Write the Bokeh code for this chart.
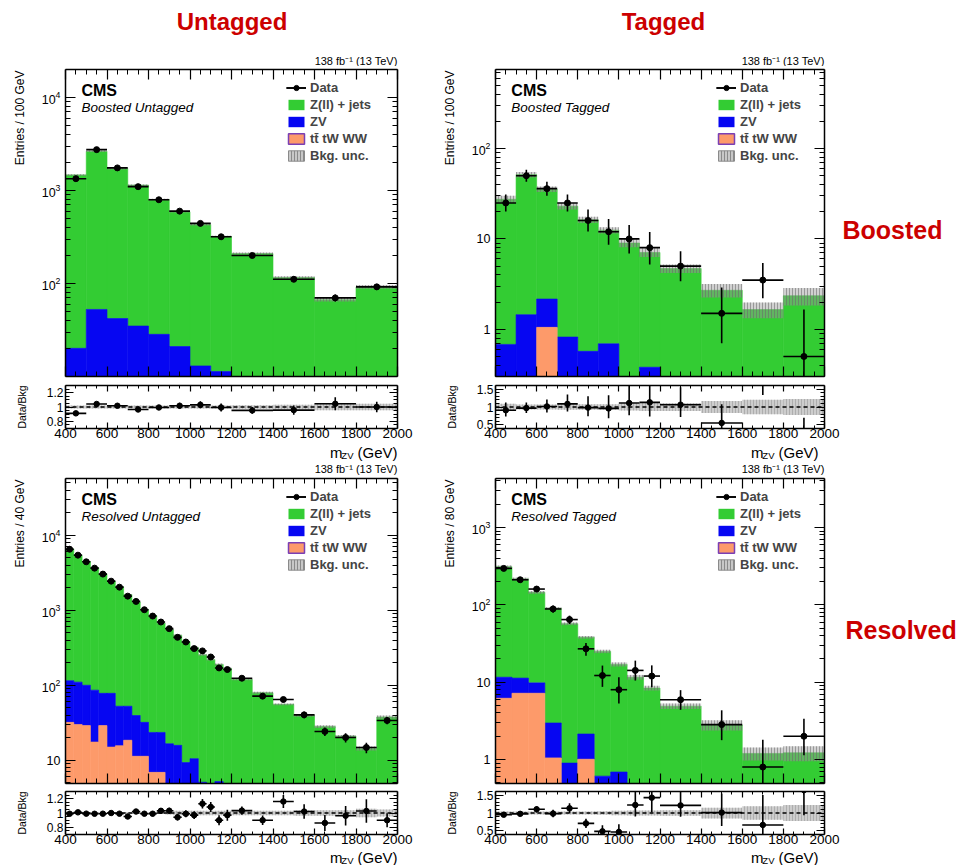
import math
from bokeh.plotting import figure
from bokeh.models import (Range1d, FixedTicker, LinearAxis, LogAxis, LogTickFormatter,
                          Label, Legend, LegendItem, Span, Title)
from bokeh.layouts import column, row
from bokeh.embed import file_html
from bokeh.resources import INLINE

FONT = "Liberation Sans"
GREEN = "#33cc33"
BLUE = "#0606f2"
ORANGE = "#fd9a6a"
PURPLE = "#7a3fb5"
RED = "#cc0000"

# ---------------- binning ----------------
boosted_edges = [400, 500, 600, 700, 800, 900, 1000, 1100, 1200, 1400, 1600, 1800, 2000]
resolved_untagged_edges = [400, 440, 480, 520, 560, 600, 640, 680, 720, 760, 800, 840, 880,
                           920, 960, 1000, 1040, 1080, 1120, 1160, 1200, 1300, 1400, 1500,
                           1600, 1700, 1800, 1900, 2000]
resolved_tagged_edges = [400, 480, 560, 640, 720, 800, 880, 960, 1040, 1120, 1200, 1400,
                         1600, 1800, 2000]

# ---------------- Boosted Untagged (entries / 100 GeV) ----------------
bu_zjets = [1450, 2587, 1678, 1105, 772, 569, 417, 309, 202, 110.5, 63.5, 89.5]
bu_zv = [17.1, 47.1, 37.5, 31.4, 25.6, 19.0, 11.5, 10.2, 7.2, 5.0, 3.2, 2.3]
bu_tt = [3.0, 5.5, 4.5, 3.5, 2.8, 2.0, 1.5, 1.1, 0.8, 0.5, 0.3, 0.2]
bu_data = [1340, 2750, 1750, 1100, 795, 600, 443, 318, 200, 111, 70, 92]
bu_err_lo = [37, 52, 42, 33, 28, 24.5, 21, 18, 10, 7.4, 6.0, 6.8]
bu_err_hi = [37, 52, 42, 33, 28, 24.5, 21, 18, 10, 7.4, 6.0, 6.8]
bu_unc = [0.02, 0.02, 0.02, 0.02, 0.02, 0.02, 0.02, 0.02, 0.025, 0.03, 0.045, 0.045]

# ---------------- Boosted Tagged (entries / 100 GeV) ----------------
bt_zjets = [26.8, 50.1, 33.3, 22.2, 15.7, 11.8, 8.8, 6.7, 4.55, 2.6, 1.57, 2.27]
bt_zv = [0.58, 1.3, 1.11, 0.72, 0.49, 0.61, 0.15, 0.33, 0.12, 0.08, 0.06, 0.06]
bt_tt = [0.1, 0.15, 1.05, 0.1, 0.08, 0.08, 0.05, 0.05, 0.03, 0.02, 0.02, 0.02]
bt_data = [25, 50, 36, 25, 16, 12, 10, 8, 5, 1.5, 3.5, 0.5]
bt_err_lo = [4.9, 7.0, 5.9, 4.9, 3.9, 3.4, 3.1, 2.8, 1.6, 0.8, 1.3, 0.499]
bt_err_hi = [6.0, 8.1, 7.0, 6.0, 5.1, 4.6, 4.3, 3.9, 2.3, 1.4, 1.9, 1.15]
bt_unc = [0.09, 0.07, 0.07, 0.08, 0.08, 0.08, 0.1, 0.11, 0.11, 0.17, 0.2, 0.22]

# ---------------- Resolved Untagged (entries / 40 GeV) ----------------
ru_zjets = [6455, 5260, 4360, 3594, 2982, 2362, 1997, 1567, 1245, 993, 821, 652, 534, 447,
            372, 307, 249, 215, 184, 163, 117, 77, 53.6, 38, 26.9, 19.9, 13.6, 36.7]
ru_zv = [83, 80, 71, 68.5, 49, 63, 36.9, 34, 28.2, 20.7, 16.6, 16.6, 12.6, 12.3, 6.3, 8.0,
         3.1, 2.7, 3.7, 2.8, 2.0, 1.7, 1.4, 1.0, 0.8, 0.7, 0.5, 0.7]
ru_tt = [32, 30, 29, 17.5, 29, 15, 15.6, 18.5, 11.3, 11.3, 6.9, 6.9, 4.0, 3.5, 3.0, 2.5,
         2.0, 1.8, 1.5, 1.2, 1.0, 0.8, 0.6, 0.5, 0.4, 0.3, 0.3, 0.3]
ru_data = [6500, 5420, 4420, 3640, 3030, 2440, 2030, 1540, 1311, 1015, 836, 696, 568, 435,
           377, 308, 287, 238, 170, 162, 124, 71.5, 64.5, 40.3, 24.2, 20.1, 14.8, 33.9]
ru_err_rel = [0.012, 0.014, 0.015, 0.017, 0.018, 0.02, 0.022, 0.025, 0.028, 0.031, 0.035,
              0.038, 0.042, 0.048, 0.05, 0.057, 0.059, 0.065, 0.077, 0.079, 0.057, 0.075,
              0.079, 0.1, 0.13, 0.14, 0.16, 0.11]
ru_unc = [0.015, 0.015, 0.015, 0.015, 0.015, 0.015, 0.015, 0.015, 0.015, 0.015, 0.015, 0.015,
          0.02, 0.03, 0.03, 0.03, 0.03, 0.03, 0.03, 0.03, 0.03, 0.03, 0.03, 0.04, 0.04, 0.04,
          0.06, 0.05]

# ---------------- Resolved Tagged (entries / 80 GeV) ----------------
rt_zjets = [299.4, 204.7, 135.2, 87.0, 56.1, 35.9, 24.4, 16.3, 11.3, 8.15, 4.7, 2.65, 1.1, 1.12]
rt_zv = [5.4, 4.1, 2.6, 1.92, 0.6, 1.13, 0.41, 0.49, 0.15, 0.15, 0.1, 0.07, 0.05, 0.05]
rt_tt = [6.2, 7.2, 7.2, 1.05, 0.3, 1.01, 0.2, 0.2, 0.15, 0.1, 0.1, 0.08, 0.05, 0.05]
rt_data = [296, 211, 160, 88.5, 64.5, 27, 12.2, 8.0, 14.2, 12, 5.94, 2.83, 0.8, 2.0]
rt_err_lo = [17, 14.5, 12.6, 9.4, 8, 5.0, 3.5, 2.7, 3.7, 3.4, 1.55, 1.05, 0.52, 0.86]
rt_err_hi = [17, 14.5, 12.6, 9.4, 8, 5.0, 4.2, 3.6, 4.8, 4.5, 1.95, 1.5, 1.0, 1.38]
rt_unc = [0.04, 0.04, 0.04, 0.04, 0.04, 0.04, 0.05, 0.06, 0.07, 0.07, 0.08, 0.15, 0.19, 0.22]

x_major_ticks = [400, 600, 800, 1000, 1200, 1400, 1600, 1800, 2000]
LUMI = "138 fb\u207b\u00b9 (13 TeV)"
BASE = 1e-4


def log_minors(lo, hi, majors):
    out = []
    for e in range(-2, 6):
        for k in range(1, 10):
            v = k * 10.0 ** e
            if lo < v < hi and all(abs(v - m) > 1e-9 * m for m in majors):
                out.append(v)
    return out


def x_minor_ticks():
    return [v for v in range(400, 2001, 50) if v not in x_major_ticks]


def style_axis(ax, tick_in, minor_in, label_size=None, standoff=0, ticks=None):
    ax.major_tick_in = tick_in
    ax.major_tick_out = 0
    ax.minor_tick_in = minor_in
    ax.minor_tick_out = 0
    ax.axis_line_color = "black"
    ax.axis_line_width = 1.5
    ax.major_tick_line_color = "black"
    ax.minor_tick_line_color = "black"
    ax.major_tick_line_width = 1.2
    ax.minor_tick_line_width = 1.0
    ax.major_label_text_font = FONT
    ax.major_label_text_color = "black"
    ax.major_label_standoff = standoff
    if label_size is None:
        # tick marks only: no label text
        ax.major_label_text_font_size = "1px"
        ax.major_label_overrides = {t: "" for t in ticks}
    else:
        ax.major_label_text_font_size = label_size
    ax.axis_label = None


def add_text(p, x, y, text, size, style="normal", align="left", baseline="middle",
             color="black", angle=0.0):
    p.add_layout(Label(x=x, y=y, text=text, text_font=FONT, text_font_size=size,
                       text_font_style=style, text_align=align, text_baseline=baseline,
                       text_color=color, angle=angle))


def side_title(p, text, size, standoff, align, offset=0):
    p.add_layout(Title(text=text, text_font=FONT, text_font_size=size,
                       text_font_style="normal", text_color="black", align=align,
                       vertical_align="middle", standoff=standoff, offset=offset), "left")


def strip(width, height, texts):
    """A text-only strip: its frame is the whole canvas, y measured downward in px."""
    p = figure(width=width, height=height, x_range=Range1d(0, width),
               y_range=Range1d(height, 0), output_backend="svg", toolbar_location=None,
               x_axis_location=None, y_axis_location=None, min_border=0)
    p.outline_line_color = None
    p.grid.visible = False
    p.xgrid.grid_line_color = None
    p.ygrid.grid_line_color = None
    p.background_fill_color = "white"
    p.border_fill_color = "white"
    for t in texts:
        add_text(p, *t[:4], **t[4])
    return p


def main_panel(edges, zjets, zv, tt, data, elo, ehi, unc, ylo, yhi, majors, ytitle, region,
               fw, fh, bl, br, bt, bb):
    p = figure(width=bl + fw + br, height=bt + fh + bb, x_range=Range1d(400, 2000),
               y_range=Range1d(ylo, yhi), y_axis_type="log", output_backend="svg",
               toolbar_location=None, min_border_left=bl, min_border_right=br,
               min_border_top=bt, min_border_bottom=bb)
    p.outline_line_color = None
    p.grid.visible = False
    p.background_fill_color = "white"
    p.border_fill_color = "white"

    la, lb = math.log10(yhi), math.log10(ylo)

    def X(px):
        return 400 + px / fw * 1600.0

    def Y(py):
        return 10 ** (la - py / fh * (la - lb))

    left = edges[:-1]
    right = edges[1:]
    n = len(left)
    s1 = list(tt)
    s2 = [a + b for a, b in zip(s1, zv)]
    s3 = [a + b for a, b in zip(s2, zjets)]

    p.quad(left=left, right=right, bottom=s2, top=s3, fill_color=GREEN,
           line_color=GREEN, line_width=0.6)
    p.quad(left=left, right=right, bottom=s1, top=s2, fill_color=BLUE,
           line_color=BLUE, line_width=0.6)
    p.quad(left=left, right=right, bottom=[BASE] * n, top=s1, fill_color=ORANGE,
           line_color=ORANGE, line_width=0.6)
    p.quad(left=left, right=right, bottom=[t * (1 - u) for t, u in zip(s3, unc)],
           top=[t * (1 + u) for t, u in zip(s3, unc)], fill_color="#9a9a9a", fill_alpha=0.45,
           hatch_pattern="vertical_line", hatch_color="#6a6a6a", hatch_alpha=0.55,
           hatch_scale=3, hatch_weight=1, line_color=None)

    xc = [(a + b) / 2 for a, b in zip(left, right)]
    hs = p.segment(x0=left, y0=data, x1=right, y1=data, line_color="black", line_width=1.6)
    vs = p.segment(x0=xc, y0=[d - l for d, l in zip(data, elo)], x1=xc,
                   y1=[d + h for d, h in zip(data, ehi)], line_color="black", line_width=1.6)
    pts = p.scatter(x=xc, y=data, size=6, color="black")

    # legend-only swatches (zero-size, drawn only in the legend)
    d_z = p.quad(left=[0], right=[0], bottom=[1], top=[1], fill_color=GREEN, line_color=None)
    d_v = p.quad(left=[0], right=[0], bottom=[1], top=[1], fill_color=BLUE, line_color=None)
    d_tt = p.quad(left=[0], right=[0], bottom=[1], top=[1], fill_color=ORANGE,
                  line_color=PURPLE, line_width=1.5)
    d_unc = p.quad(left=[0], right=[0], bottom=[1], top=[1], fill_color="#c8c8c8",
                   hatch_pattern="vertical_line", hatch_color="#8a8a8a", hatch_scale=3,
                   hatch_weight=1, line_color="#8a8a8a", line_width=1)
    legend = Legend(items=[LegendItem(label="Data", renderers=[hs, vs, pts]),
                           LegendItem(label="Z(ll) + jets", renderers=[d_z]),
                           LegendItem(label="ZV", renderers=[d_v]),
                           LegendItem(label="tt\u0304 tW WW", renderers=[d_tt]),
                           LegendItem(label="Bkg. unc.", renderers=[d_unc])],
                    location=(221, fh - 10 - 85), padding=0, margin=0, spacing=0,
                    glyph_width=20, glyph_height=13, label_height=17, label_standoff=4,
                    label_text_font=FONT, label_text_font_size="13px",
                    label_text_font_style="bold", background_fill_alpha=0,
                    border_line_color=None)
    p.add_layout(legend)

    # axes
    yt = FixedTicker(ticks=majors, minor_ticks=log_minors(ylo, yhi, majors))
    xt = FixedTicker(ticks=x_major_ticks, minor_ticks=x_minor_ticks())
    p.yaxis.ticker = yt
    p.yaxis.formatter = LogTickFormatter()
    p.yaxis.major_label_overrides = {1: "1", 10: "10"}
    style_axis(p.yaxis[0], 10, 5, "12.5px", 5)
    p.xaxis.ticker = xt
    style_axis(p.xaxis[0], 10, 5, ticks=x_major_ticks)
    ra = LogAxis(ticker=yt)
    style_axis(ra, 10, 5, ticks=majors)
    p.add_layout(ra, "right")
    ta = LinearAxis(ticker=xt)
    style_axis(ta, 10, 5, ticks=x_major_ticks)
    p.add_layout(ta, "above")

    side_title(p, ytitle, "12px", 22, "right", offset=1)

    add_text(p, X(16), Y(21), "CMS", "16px", style="bold")
    add_text(p, X(16), Y(37.5), region, "13.5px", style="italic")
    return p


def ratio_panel(edges, zjets, zv, tt, data, elo, ehi, unc, rlo, rhi, rmaj, rmin,
                fw, fh, bl, br, bt, bb):
    p = figure(width=bl + fw + br, height=bt + fh + bb, x_range=Range1d(400, 2000),
               y_range=Range1d(rlo, rhi), output_backend="svg", toolbar_location=None,
               min_border_left=bl, min_border_right=br, min_border_top=bt, min_border_bottom=bb)
    p.outline_line_color = None
    p.grid.visible = False
    p.background_fill_color = "white"
    p.border_fill_color = "white"

    left = edges[:-1]
    right = edges[1:]
    tot = [a + b + c for a, b, c in zip(zjets, zv, tt)]
    p.quad(left=left, right=right, bottom=[1 - u for u in unc], top=[1 + u for u in unc],
           fill_color="#c4c4c4", fill_alpha=0.85, hatch_pattern="vertical_line",
           hatch_color="#9a9a9a", hatch_alpha=0.6, hatch_scale=3, hatch_weight=1,
           line_color=None)
    p.add_layout(Span(location=1, dimension="width", line_color="black", line_dash="4 3",
                      line_width=1.3))
    xc = [(a + b) / 2 for a, b in zip(left, right)]
    rat = [d / t for d, t in zip(data, tot)]
    rlo_ = [(d - l) / t for d, l, t in zip(data, elo, tot)]
    rhi_ = [(d + h) / t for d, h, t in zip(data, ehi, tot)]
    p.segment(x0=left, y0=rat, x1=right, y1=rat, line_color="black", line_width=1.6)
    p.segment(x0=xc, y0=rlo_, x1=xc, y1=rhi_, line_color="black", line_width=1.6)
    p.scatter(x=xc, y=rat, size=5.5, color="black")

    yt = FixedTicker(ticks=rmaj, minor_ticks=rmin)
    xt = FixedTicker(ticks=x_major_ticks, minor_ticks=x_minor_ticks())
    p.yaxis.ticker = yt
    p.yaxis.major_label_overrides = {1: "1"}
    style_axis(p.yaxis[0], 8, 4, "12px", 2)
    p.xaxis.ticker = xt
    style_axis(p.xaxis[0], 6, 3, "13.5px", 0)
    ra = LinearAxis(ticker=yt)
    style_axis(ra, 8, 4, ticks=rmaj)
    p.add_layout(ra, "right")
    ta = LinearAxis(ticker=xt)
    style_axis(ta, 6, 3, ticks=x_major_ticks)
    p.add_layout(ta, "above")

    side_title(p, "Data/Bkg", "10.5px", 29, "center")
    return p


# ---------------- layout geometry (page pixels) ----------------
LBL, LFW, LBR = 63, 334, 33        # left column: frame x 63..397
RBL, RFW, RBR = 62, 332, 8         # right column: frame x 492..824
SIDE_W = 963 - (LBL + LFW + LBR) - (RBL + RFW + RBR)

untag_rmaj = [0.8, 1, 1.2]
untag_rmin = [0.75, 0.85, 0.9, 0.95, 1.05, 1.1, 1.15, 1.25]
tag_rmaj = [0.5, 1, 1.5]
tag_rmin = [0.6, 0.7, 0.8, 0.9, 1.1, 1.2, 1.3, 1.4]


def mzv_texts(right_x, y):
    return [(right_x, y, "(GeV)", "15px", dict(align="right")),
            (right_x - 44, y + 3, "ZV", "9.5px", dict(align="right")),
            (right_x - 55, y, "m", "15px", dict(align="right"))]


header = strip(963, 66, [
    (231.5, 21, "Untagged", "24px", dict(style="bold", align="center", color=RED)),
    (663, 21, "Tagged", "24px", dict(style="bold", align="center", color=RED)),
    (397, 60.7, LUMI, "11px", dict(align="right")),
    (824, 60.7, LUMI, "11px", dict(align="right")),
])

p_bu = main_panel(boosted_edges, bu_zjets, bu_zv, bu_tt, bu_data, bu_err_lo, bu_err_hi, bu_unc,
                  10, 2.0e4, [100, 1000, 10000], "Entries / 100 GeV", "Boosted Untagged",
                  LFW, 307, LBL, LBR, 3, 4)
p_bt = main_panel(boosted_edges, bt_zjets, bt_zv, bt_tt, bt_data, bt_err_lo, bt_err_hi, bt_unc,
                  0.3, 750, [1, 10, 100], "Entries / 100 GeV", "Boosted Tagged",
                  RFW, 307, RBL, RBR, 3, 4)
side_top = strip(SIDE_W, 314, [
    (10, 164, "Boosted", "25px", dict(style="bold", align="left", color=RED))])

r_bu = ratio_panel(boosted_edges, bu_zjets, bu_zv, bu_tt, bu_data, bu_err_lo, bu_err_hi, bu_unc,
                   0.7, 1.3, untag_rmaj, untag_rmin, LFW, 43, LBL, LBR, 5, 15)
r_bt = ratio_panel(boosted_edges, bt_zjets, bt_zv, bt_tt, bt_data, bt_err_lo, bt_err_hi, bt_unc,
                   0.4, 1.6, tag_rmaj, tag_rmin, RFW, 43, RBL, 16, 5, 15)

mid = strip(963, 33, mzv_texts(397, 8.5) + mzv_texts(818, 8.5) + [
    (397, 25.5, LUMI, "11px", dict(align="right")),
    (824, 25.5, LUMI, "11px", dict(align="right")),
])

ru_err = [d * e for d, e in zip(ru_data, ru_err_rel)]
p_ru = main_panel(resolved_untagged_edges, ru_zjets, ru_zv, ru_tt, ru_data, ru_err, ru_err,
                  ru_unc, 4.9, 5.7e4, [10, 100, 1000, 10000], "Entries / 40 GeV",
                  "Resolved Untagged", LFW, 305, LBL, LBR, 2, 4)
p_rt = main_panel(resolved_tagged_edges, rt_zjets, rt_zv, rt_tt, rt_data, rt_err_lo, rt_err_hi,
                  rt_unc, 0.49, 4300, [1, 10, 100, 1000], "Entries / 80 GeV", "Resolved Tagged",
                  RFW, 305, RBL, RBR, 2, 4)
side_bottom = strip(SIDE_W, 311, [
    (13, 154, "Resolved", "25px", dict(style="bold", align="left", color=RED))])

r_ru = ratio_panel(resolved_untagged_edges, ru_zjets, ru_zv, ru_tt, ru_data, ru_err, ru_err,
                   ru_unc, 0.7, 1.3, untag_rmaj, untag_rmin, LFW, 43, LBL, LBR, 4, 15)
r_rt = ratio_panel(resolved_tagged_edges, rt_zjets, rt_zv, rt_tt, rt_data, rt_err_lo, rt_err_hi,
                   rt_unc, 0.4, 1.6, tag_rmaj, tag_rmin, RFW, 43, RBL, 16, 4, 15)

bottom = strip(963, 16, mzv_texts(397, 8) + mzv_texts(818, 8))

layout = column(header,
                row(p_bu, p_bt, side_top),
                row(r_bu, r_bt),
                mid,
                row(p_ru, p_rt, side_bottom),
                row(r_ru, r_rt),
                bottom)

open("out.html", "w").write(file_html(layout, INLINE))
